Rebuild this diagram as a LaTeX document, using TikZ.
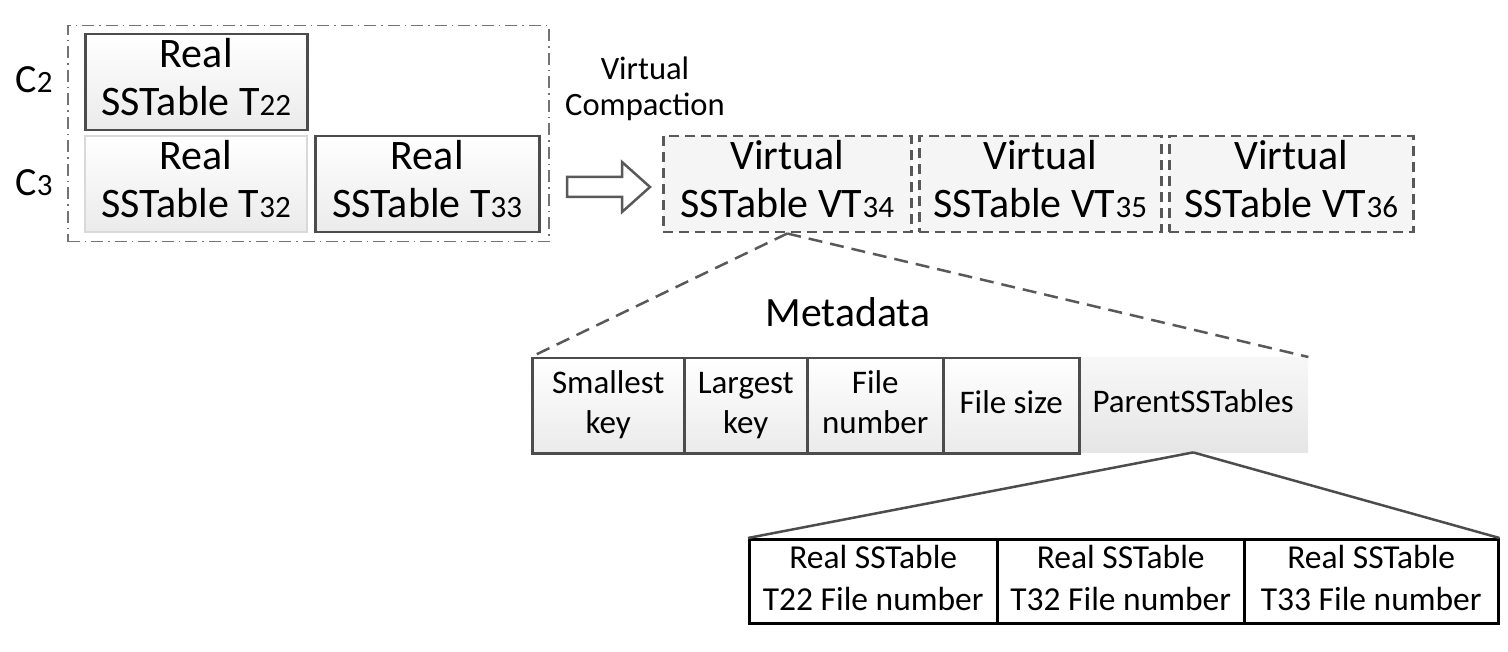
\documentclass[tikz,border=0pt]{standalone}
\usepackage{fontspec}
\setmainfont{Carlito}
\begin{document}
\begin{tikzpicture}[x=1pt,y=-1pt,
  bigtext/.style={font=\fontsize{42}{48}\selectfont, align=center},
  realbox/.style={draw=black!70, line width=2.5pt, top color=white, bottom color=black!8, anchor=north west, inner sep=0pt, bigtext},
  faintbox/.style={draw=black!15, line width=2pt, top color=white, bottom color=black!8, anchor=north west, inner sep=0pt, bigtext},
  virtbox/.style={draw=black!65, line width=2.5pt, dash pattern=on 10pt off 6pt, fill=black!4, anchor=north west, inner sep=0pt, bigtext},
  metacell/.style={draw=black!70, line width=2.5pt, top color=white, bottom color=black!8, anchor=north west, inner sep=0pt, minimum height=95pt, font=\fontsize{33}{40}\selectfont, align=center},
  parentcell/.style={top color=black!3, bottom color=black!10, anchor=north west, inner sep=0pt, minimum height=95pt, font=\fontsize{33}{40}\selectfont, align=center},
  filecell/.style={draw=black, line width=2.5pt, fill=white, anchor=north west, inner sep=0pt, minimum height=82pt, minimum width=248pt, font=\fontsize{33.5}{42}\selectfont, align=center},
  levellabel/.style={font=\fontsize{40}{48}\selectfont},
  plainlabel/.style={font=\fontsize{32.6}{36}\selectfont, align=center},
  zoomdash/.style={draw=black!65, line width=2.5pt, dash pattern=on 14pt off 8pt},
  zoomline/.style={draw=black!70, line width=2.5pt}
]
\newcommand\dg[1]{{\fontsize{31}{31}\selectfont #1}}
\newcommand\myln[1]{\strut #1}
\useasboundingbox (0,0) rectangle (1508,652);
% outer group
\node[draw=black!55, line width=1.5pt, dash pattern=on 12pt off 5pt on 1.5pt off 5pt, minimum width=481pt, minimum height=216pt, anchor=north west, inner sep=0pt] (grp) at (67,25) {};
\node[levellabel] (c2) at (34,80) {C\dg{2}};
\node[levellabel] (c3) at (34,183) {C\dg{3}};
\node[realbox, minimum width=222pt, minimum height=94pt] (t22) at (84,33) {\myln{Real}\\\myln{SSTable T\dg{22}}};
\node[faintbox, minimum width=222pt, minimum height=94pt] (t32) at (84,135) {\myln{Real}\\\myln{SSTable T\dg{32}}};
\node[realbox, minimum width=224pt, minimum height=94pt] (t33) at (314,135) {\myln{Real}\\\myln{SSTable T\dg{33}}};
% label and arrow
\node[plainlabel] (vc) at (645,89) {Virtual\\Compaction};
\draw[draw=black!65, line width=2.5pt, fill=white, line join=miter] (567,177) -- (622,177) -- (622,162) -- (650,187) -- (622,212) -- (622,197) -- (567,197) -- cycle;
% virtual tables
\node[virtbox, minimum width=248pt, minimum height=95pt] (vt34) at (662,135) {\myln{Virtual}\\\myln{SSTable VT\dg{34}}};
\node[virtbox, minimum width=242pt, minimum height=95pt] (vt35) at (918,135) {\myln{Virtual}\\\myln{SSTable VT\dg{35}}};
\node[virtbox, minimum width=244pt, minimum height=95pt] (vt36) at (1168,135) {\myln{Virtual}\\\myln{SSTable VT\dg{36}}};
% metadata
\node[font=\fontsize{41.7}{48}\selectfont] (meta) at (848,312) {Metadata};
\node[parentcell, minimum width=230pt] (parent) at (1078,357) {\myln{ParentSSTables}};
\node[metacell, minimum width=152pt] (smallest) at (531,357) {\myln{Smallest}\\\myln{key}};
\node[metacell, minimum width=123pt] (largest) at (683,357) {\myln{Largest}\\\myln{key}};
\node[metacell, minimum width=136pt] (fnum) at (806,357) {\myln{File}\\\myln{number}};
\node[metacell, minimum width=136pt] (fsize) at (942,357) {\myln{File size}};
\draw[zoomdash] (vt34.south) -- (smallest.north west);
\draw[zoomdash] (vt34.south) -- (parent.north east);
% file numbers
\node[filecell] (r22) at (748,538) {\myln{Real SSTable}\\\myln{T22 File number}};
\node[filecell, minimum width=247pt] (r32) at (996,538) {\myln{Real SSTable}\\\myln{T32 File number}};
\node[filecell, minimum width=254pt] (r33) at (1243,538) {\myln{Real SSTable}\\\myln{T33 File number}};
\draw[zoomline] (parent.south) -- (r22.north west);
\draw[zoomline] (parent.south) -- (r33.north east);
\end{tikzpicture}
\end{document}
